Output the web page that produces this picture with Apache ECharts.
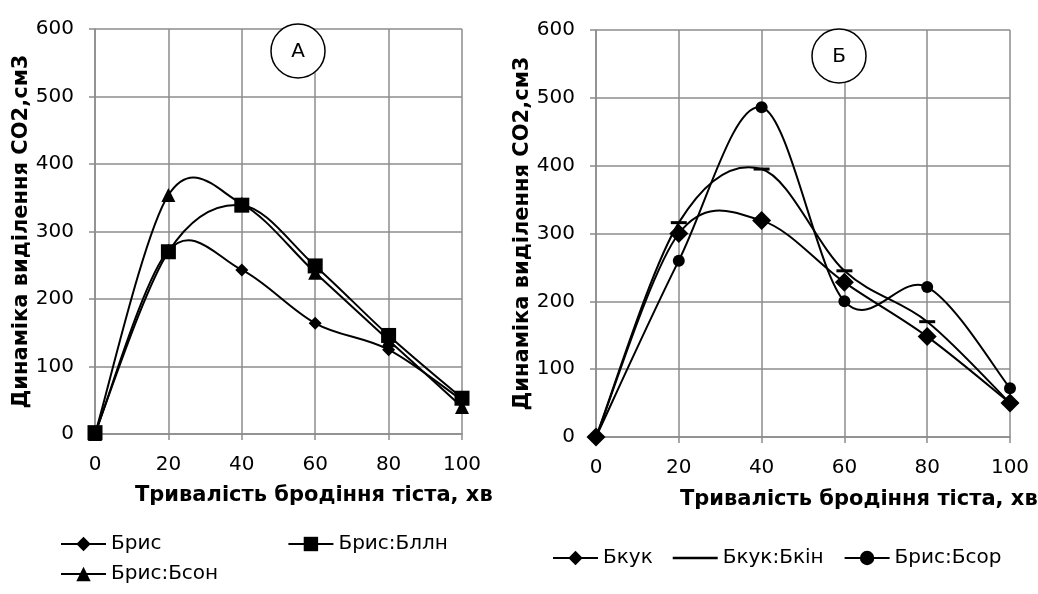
<!DOCTYPE html>
<html>
<head>
<meta charset="utf-8">
<script src="https://cdn.jsdelivr.net/npm/echarts@6/dist/echarts.min.js"></script>
<style>
html, body { margin: 0; background: #fff; }
#main { width: 1038px; height: 594px; }
</style>
</head>
<body>
<div id="main"></div>
<script>
// fermentation time, min
const minutes = [0, 20, 40, 60, 80, 100];
const yTicks = [0, 100, 200, 300, 400, 500, 600];

// chart A
const bris = [0, 272, 243, 164, 125, 50];
const brisBlln = [2, 270, 339, 249, 146, 53];
const brisBson = [0, 354, 341, 239, 139, 40];

// chart B
const bkuk = [0, 300, 319, 228, 148, 50];
const bkukBkin = [0, 316, 395, 245, 170, 50];
const brisBsor = [0, 260, 486, 200, 221, 72];

const FONT = "'DejaVu Sans', 'Liberation Sans', sans-serif";
const GRID_COLOR = "#8c8c8c";

function pairs(values) {
  return minutes.map((m, i) => [m, values[i]]);
}

function xAxisCfg(gridIndex) {
  return {
    type: "value",
    gridIndex: gridIndex,
    min: 0,
    max: 100,
    interval: 20,
    axisLine: { onZero: false, lineStyle: { color: GRID_COLOR, width: 1.5 } },
    axisTick: { show: true, length: 6, lineStyle: { color: GRID_COLOR, width: 1.5 } },
    splitLine: { show: true, lineStyle: { color: GRID_COLOR, width: 1.5 } },
    axisLabel: { color: "#000", fontSize: 20, fontFamily: FONT, margin: 21 }
  };
}

function yAxisCfg(gridIndex) {
  return {
    type: "value",
    gridIndex: gridIndex,
    min: yTicks[0],
    max: yTicks[yTicks.length - 1],
    interval: yTicks[1] - yTicks[0],
    name: "Динаміка виділення CO2,см3",
    nameLocation: "middle",
    nameGap: 58,
    nameTextStyle: { color: "#000", fontSize: 21, fontWeight: "bold", fontFamily: FONT },
    axisLine: { show: true, lineStyle: { color: GRID_COLOR, width: 1.5 } },
    axisTick: { show: true, length: 6, lineStyle: { color: GRID_COLOR, width: 1.5 } },
    splitLine: { show: true, lineStyle: { color: GRID_COLOR, width: 1.5 } },
    axisLabel: { color: "#000", fontSize: 20, fontFamily: FONT, margin: 21 }
  };
}

// smoothed curve like the spreadsheet one: cubic pieces between the points,
// placed through the axes with api.coord
function curveSeries(values, idx) {
  const n = values.length;
  return {
    type: "custom",
    xAxisIndex: idx,
    yAxisIndex: idx,
    data: pairs(values),
    encode: { x: 0, y: 1 },
    silent: true,
    z: 2,
    renderItem: function(params, api) {
      const i = params.dataIndex;
      if (i >= n - 1) return null;
      const pt = (k) => {
        const j = Math.max(0, Math.min(n - 1, k));
        return api.coord([minutes[j], values[j]]);
      };
      const p0 = pt(i - 1), p1 = pt(i), p2 = pt(i + 1), p3 = pt(i + 2);
      return {
        type: "bezierCurve",
        shape: {
          x1: p1[0], y1: p1[1],
          x2: p2[0], y2: p2[1],
          cpx1: p1[0] + (p2[0] - p0[0]) / 6,
          cpy1: p1[1] + (p2[1] - p0[1]) / 6,
          cpx2: p2[0] - (p3[0] - p1[0]) / 6,
          cpy2: p2[1] - (p3[1] - p1[1]) / 6
        },
        style: { fill: null, stroke: "#000", lineWidth: 2 }
      };
    }
  };
}

function markerSeries(name, values, idx, symbol, size) {
  return {
    name: name,
    type: "line",
    xAxisIndex: idx,
    yAxisIndex: idx,
    data: pairs(values),
    symbol: symbol,
    symbolSize: size,
    showAllSymbol: true,
    lineStyle: { color: "#000", width: 2, opacity: 0 },
    itemStyle: { color: "#000" },
    emphasis: { disabled: true },
    z: 3
  };
}

const legendText = { color: "#000", fontSize: 20, fontFamily: FONT };
const legendLine = { color: "#000", width: 2, opacity: 1 };

const option = {
  animation: false,
  backgroundColor: "#fff",
  grid: [
    { left: 95, top: 29, right: 576, bottom: 160 },
    { left: 596, top: 30, right: 28, bottom: 157 }
  ],
  xAxis: [xAxisCfg(0), xAxisCfg(1)],
  yAxis: [yAxisCfg(0), yAxisCfg(1)],
  legend: [
    { data: ["Брис", "Брис:Бллн"], left: 55, top: 529, itemWidth: 45, itemHeight: 18, itemGap: 126, textStyle: legendText, lineStyle: legendLine },
    { data: ["Брис:Бсон"], left: 55, top: 559, itemWidth: 45, itemHeight: 18, textStyle: legendText, lineStyle: legendLine },
    {
      data: ["Бкук", { name: "Бкук:Бкін", icon: "path://M0,0H45V2.5H0Z" }, "Брис:Бсор"],
      left: 547, top: 543, itemWidth: 45, itemHeight: 18, itemGap: 20, textStyle: legendText, lineStyle: legendLine
    }
  ],
  graphic: [
    { type: "text", left: 135, top: 485, style: { text: "Тривалість бродіння тіста, хв", font: "bold 21px " + FONT, fill: "#000" } },
    { type: "text", left: 680, top: 489, style: { text: "Тривалість бродіння тіста, хв", font: "bold 21px " + FONT, fill: "#000" } },
    { type: "circle", shape: { cx: 298, cy: 51, r: 27 }, style: { fill: "#fff", stroke: "#000", lineWidth: 1.5 }, z: 10 },
    { type: "text", x: 298, y: 52, style: { text: "А", font: "20px " + FONT, fill: "#000", align: "center", verticalAlign: "middle" }, z: 11 },
    { type: "circle", shape: { cx: 839, cy: 56, r: 27 }, style: { fill: "#fff", stroke: "#000", lineWidth: 1.5 }, z: 10 },
    { type: "text", x: 839, y: 57, style: { text: "Б", font: "20px " + FONT, fill: "#000", align: "center", verticalAlign: "middle" }, z: 11 }
  ],
  series: [
    curveSeries(bris, 0),
    curveSeries(brisBlln, 0),
    curveSeries(brisBson, 0),
    curveSeries(bkuk, 1),
    curveSeries(bkukBkin, 1),
    curveSeries(brisBsor, 1),
    markerSeries("Брис", bris, 0, "diamond", 13),
    markerSeries("Брис:Бллн", brisBlln, 0, "rect", 15),
    markerSeries("Брис:Бсон", brisBson, 0, "triangle", 14),
    markerSeries("Бкук", bkuk, 1, "diamond", 19),
    markerSeries("Бкук:Бкін", bkukBkin, 1, "rect", [16, 3]),
    markerSeries("Брис:Бсор", brisBsor, 1, "circle", 12)
  ]
};

const myChart = echarts.init(document.getElementById("main"));
myChart.setOption(option);
window.onresize = function() {
  myChart.resize();
};
</script>
</body>
</html>
